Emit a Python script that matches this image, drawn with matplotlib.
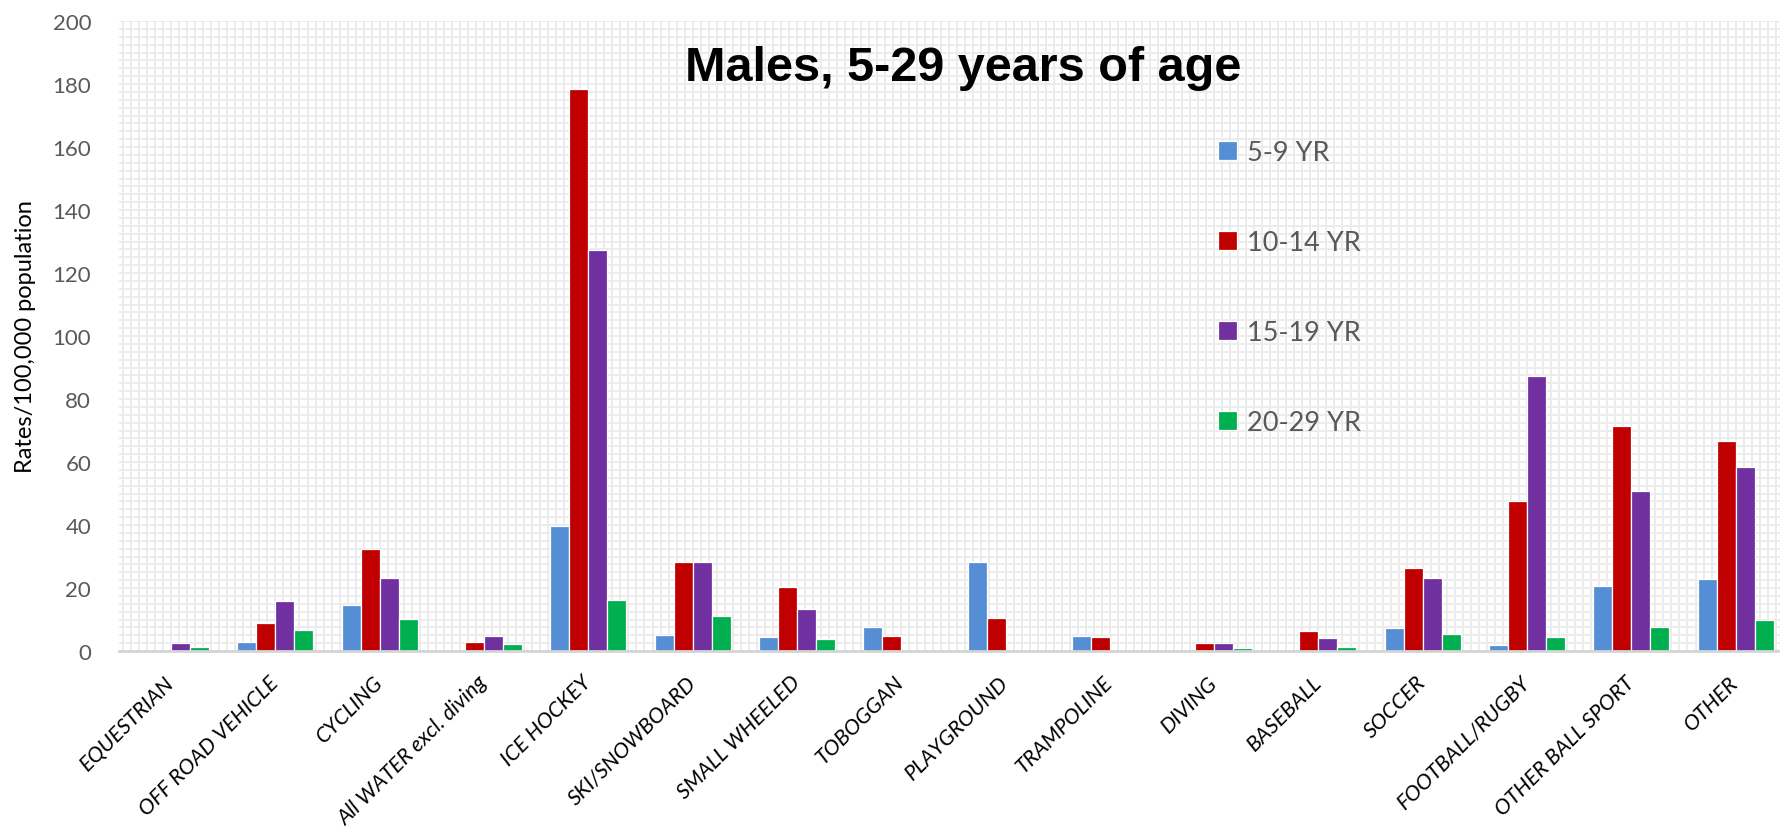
import matplotlib
matplotlib.use("Agg")
import matplotlib.pyplot as plt
from matplotlib.ticker import MultipleLocator
import numpy as np

categories = [
    "EQUESTRIAN", "OFF ROAD VEHICLE", "CYCLING", "All WATER excl. diving",
    "ICE HOCKEY", "SKI/SNOWBOARD", "SMALL WHEELED", "TOBOGGAN", "PLAYGROUND",
    "TRAMPOLINE", "DIVING", "BASEBALL", "SOCCER", "FOOTBALL/RUGBY",
    "OTHER BALL SPORT", "OTHER",
]
age_groups = ["5-9 YR", "10-14 YR", "15-19 YR", "20-29 YR"]

rates_5_9 = [0, 2.8, 14.5, 0, 39.6, 5.2, 4.3, 7.6, 28.3, 4.8, 0, 0, 7.3, 2.0, 20.8, 22.9]
rates_10_14 = [0, 8.8, 32.4, 2.8, 178.4, 28.3, 20.2, 4.8, 10.5, 4.3, 2.4, 6.5, 26.5, 47.7, 71.3, 66.8]
rates_15_19 = [2.4, 15.8, 23.1, 4.7, 127.4, 28.3, 13.3, 0, 0, 0, 2.4, 4.1, 23.3, 87.4, 50.9, 58.3]
rates_20_29 = [1.2, 6.8, 10.1, 2.2, 16.1, 11.2, 3.9, 0, 0, 0, 0.9, 1.3, 5.3, 4.3, 7.6, 9.8]

series = [rates_5_9, rates_10_14, rates_15_19, rates_20_29]
colors = ["#558ED5", "#C00000", "#7030A0", "#00B050"]

plt.rcParams["font.family"] = ["Lato", "DejaVu Sans"]

fig = plt.figure(figsize=(17.81, 8.37), dpi=100)
ax = fig.add_axes([0.0668, 0.221, 0.937, 0.7527])

x = np.arange(len(categories))
bar_w = 0.182
handles = []
for i, (vals, color, label) in enumerate(zip(series, colors, age_groups)):
    offset = (i - 1.5) * bar_w
    bars = ax.bar(x + offset, vals, width=bar_w, color=color, edgecolor="white",
                  linewidth=0.9, label=label, zorder=3)
    handles.append(bars)

ax.set_xlim(-0.5, len(categories) - 0.5)
ax.set_ylim(0, 200)

# fine background grid in both directions
ax.yaxis.set_major_locator(MultipleLocator(20))
ax.yaxis.set_minor_locator(MultipleLocator(2.5))
ax.set_xticks(x)
ax.xaxis.set_minor_locator(MultipleLocator(1 / 13))
ax.grid(True, which="both", axis="both", color="#ebebeb", linewidth=1.3, zorder=0)
ax.set_axisbelow(True)

for side in ["top", "right", "left"]:
    ax.spines[side].set_visible(False)
ax.spines["bottom"].set_color("#d4d4d4")
ax.spines["bottom"].set_linewidth(2)
ax.spines["bottom"].set_zorder(4)

ax.tick_params(axis="both", which="both", length=0)
ax.tick_params(axis="y", labelsize=16, labelcolor="#595959", pad=20)
ax.set_xticklabels(categories, rotation=45, ha="right", va="center",
                   rotation_mode="anchor", fontsize=15.5, fontstyle="italic")
ax.tick_params(axis="x", pad=20)

ax.set_ylabel("Rates/100,000 population", fontsize=17, color="#000000", labelpad=12)

fig.text(0.541, 0.9176, "Males, 5-29 years of age",
         family=["Liberation Sans Narrow", "Liberation Sans", "DejaVu Sans"],
         fontweight="bold", fontsize=35, ha="center", va="center")

leg = ax.legend(handles=handles, loc="upper left", bbox_to_anchor=(0.684, 0.832),
                bbox_transform=fig.transFigure, frameon=False, fontsize=19.5,
                labelspacing=2.41, handlelength=0.7, handleheight=0.7,
                handletextpad=0.35, borderpad=0, borderaxespad=0)
for t in leg.get_texts():
    t.set_color("#595959")

fig.savefig("out.png", dpi=100)
